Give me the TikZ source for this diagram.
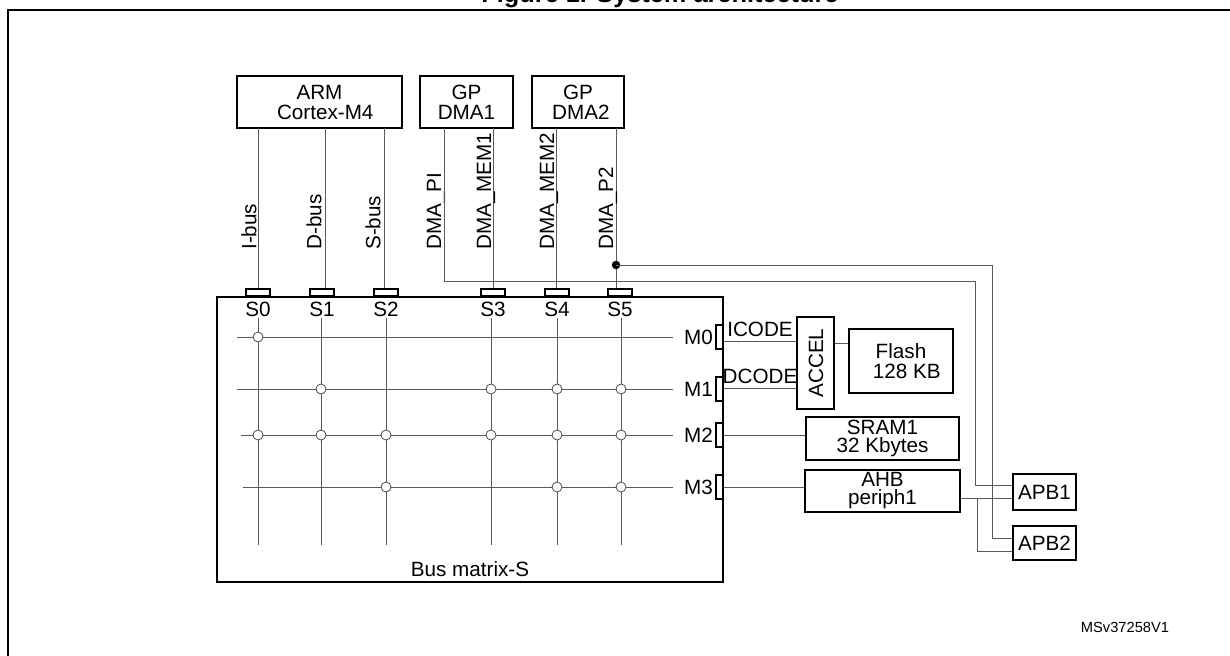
\documentclass[tikz,border=0pt]{standalone}
\usepackage{fontspec}
\setmainfont{Liberation Sans}
\begin{document}
\begin{tikzpicture}[x=0.75pt,y=-0.75pt,
  box/.style={draw,line width=1.6pt,inner sep=0pt,align=center,font=\fontsize{15.5}{15}\selectfont},
  bus/.style={draw=black!65,line width=0.7pt},
  port/.style={draw,line width=1.3pt,inner sep=0pt,fill=white},
  lbl/.style={font=\fontsize{15.5}{16}\selectfont,inner sep=0pt},
  junc/.style={circle,draw=black!70,fill=white,line width=0.6pt,minimum size=7.5pt,inner sep=0pt}]
\clip (0,0) rectangle (1230,656);
\useasboundingbox (0,0) rectangle (1230,656);
\draw[line width=1.6pt] (1240,10) -| (8,670);
\node[font=\bfseries\fontsize{19}{19}\selectfont] (title) at (660,-4) {Figure 1. System architecture};
% masters
\node[box,minimum width=123.75pt,minimum height=39pt] (arm) at (319.5,102) {ARM\\ \ \ Cortex-M4};
\node[box,minimum width=69.75pt,minimum height=39pt] (dma1) at (466.5,102) {GP\\ DMA1};
\node[box,minimum width=69pt,minimum height=39pt] (dma2) at (578,102) {GP\\ \ DMA2};
% matrix
\node[draw,line width=1.6pt,minimum width=379.5pt,minimum height=213.75pt,inner sep=0pt] (mat) at (470,439.5) {};
\node[lbl] (bmlbl) at (470,569) {Bus matrix-S};
\foreach \n/\x in {0/258,1/322,2/386,3/493,4/557,5/620}{
  \node[port,minimum width=18pt,minimum height=5pt] (s\n) at (\x,292.5) {};
  \node[lbl] (sl\n) at (\x,309) {S\n};
}
% vertical matrix lines
\foreach \n/\x in {0/258,1/321,2/386,3/491,4/557,5/621}{
  \coordinate (vt\n) at (\x,318); \coordinate (vb\n) at (\x,545);
  \draw[bus] (vt\n) -- (vb\n);
}
% M ports
\foreach \n/\y/\xs in {0/337/237,1/389/237,2/435/241,3/487/243}{
  \node[port,minimum width=5pt,minimum height=18pt] (m\n) at (719.5,\y) {};
  \node[lbl,anchor=east] (ml\n) at (713,\y) {M\n};
  \coordinate (hs\n) at (\xs,\y); \coordinate (he\n) at (673,\y);
  \draw[bus] (hs\n) -- (he\n);
}
% junctions
\foreach \x/\y in {258/337, 321/389,491/389,557/389,621/389,
  258/435,321/435,386/435,491/435,557/435,621/435, 386/487,557/487,621/487}
  \node[junc] at (\x,\y) {};
% bus lines from masters
\coordinate (ib) at (258,128); \coordinate (db) at (325,128); \coordinate (sb) at (384,128);
\draw[bus] (ib) -- (s0.north); \draw[bus] (db) -- (s1.north -| db); \draw[bus] (sb) -- (s2.north -| sb);
\node[lbl,rotate=90,anchor=west] (lib) at (249,250) {I-bus};
\node[lbl,rotate=90,anchor=west] (ldb) at (314,250) {D-bus};
\node[lbl,rotate=90,anchor=west] (lsb) at (373,250) {S-bus};
\coordinate (pi) at (444,128);
\coordinate (dm1) at (493,128); \coordinate (dm2) at (556,128); \coordinate (p2) at (616,128);
\draw[bus] (dm1) -- (s3.north); \draw[bus] (dm2) -- (s4.north -| dm2);
\draw[bus] (p2) -- (s5.north -| p2);
\node[lbl,rotate=90,anchor=west] (lpi) at (436,250) {DMA\_PI};
\node[lbl,rotate=90,anchor=west] (lm1) at (486,250) {DMA\_MEM1};
\node[lbl,rotate=90,anchor=west] (lm2) at (549,250) {DMA\_MEM2};
\node[lbl,rotate=90,anchor=west] (lp2) at (608,250) {DMA\_P2};
% slaves
\node[box,minimum width=27.75pt,minimum height=69pt] (accel) at (815.5,363) {};
\node[lbl,rotate=90] (accl) at (816,363) {ACCEL};
\node[box,minimum width=78pt,minimum height=48pt] (flash) at (901,361) {Flash\\ \ \ 128 KB};
\node[box,minimum width=114.75pt,minimum height=32.25pt,font=\fontsize{15.5}{13.5}\selectfont] (sram) at (882.5,438.5) {SRAM1\\ 32 Kbytes};
\node[box,minimum width=116.25pt,minimum height=31.5pt,font=\fontsize{15.5}{13.5}\selectfont] (ahb) at (882.5,491) {AHB\\ periph1};
\node[box,minimum width=47.25pt,minimum height=27pt] (apb1) at (1044.5,492) {APB1};
\node[box,minimum width=47.25pt,minimum height=25.5pt] (apb2) at (1044.5,543) {APB2};
% slave connections
\draw[bus] (m0.east |- 0,341) -- (accel.west |- 0,341);
\draw[bus] (m1.east |- 0,388) -- (accel.west |- 0,388);
\node[lbl] (icode) at (760,329) {ICODE};
\node[lbl] (dcode) at (760,376) {DCODE};
\draw[bus] (accel.east |- 0,343) -- (flash.west |- 0,343);
\draw[bus] (m2.east) -- (sram.west |- m2.east);
\draw[bus] (m3.east) -- (ahb.west |- m3.east);
\draw[bus] (ahb.east |- 0,498) -- (apb1.west |- 0,498);
\draw[bus] (977,498) |- (apb2.west |- 0,551);
% DMA peripheral buses to APB
\draw[bus] (pi) |- (975,281) |- (apb1.west |- 0,485);
\coordinate (dot) at (616,265);
\fill (dot) circle (3.2pt);
\draw[bus] (dot) -| (992,538) -- (apb2.west |- 0,538);
\node[font=\fontsize{11}{11}\selectfont] (ms) at (1125,627) {MSv37258V1};
\end{tikzpicture}
\end{document}
